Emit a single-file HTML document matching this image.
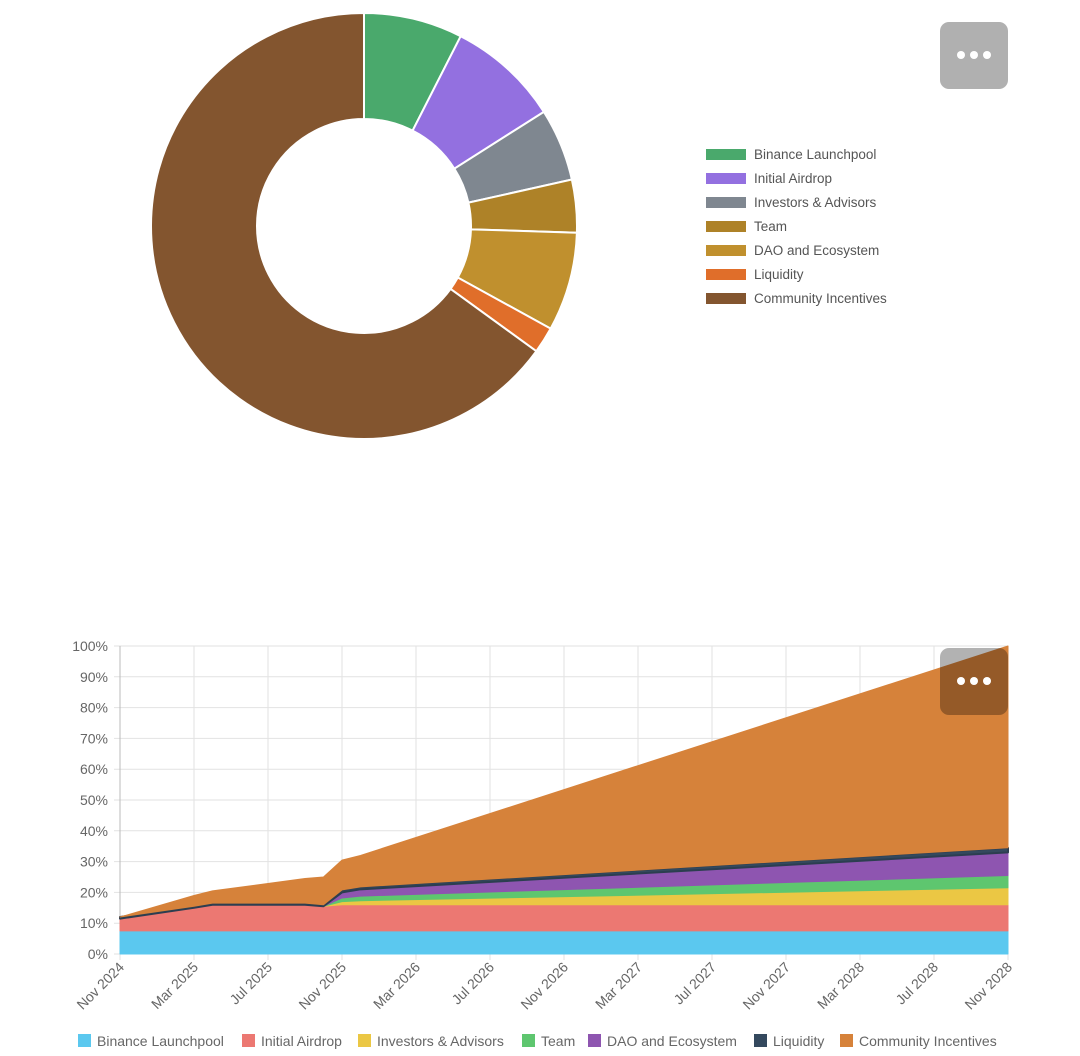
<!DOCTYPE html>
<html><head><meta charset="utf-8">
<style>
html,body{margin:0;padding:0;background:#fff;width:1080px;height:1056px;overflow:hidden;font-family:"Liberation Sans",sans-serif;}
svg{position:absolute;left:0;top:0;}
</style></head>
<body>
<svg id="chart" width="1080" height="1056" xmlns="http://www.w3.org/2000/svg"></svg>
<script>
// ---------- Donut data ----------
const donutLabels = ["Binance Launchpool","Initial Airdrop","Investors & Advisors","Team","DAO and Ecosystem","Liquidity","Community Incentives"];
const donutValues = [7.5, 8.5, 5.5, 4, 7.5, 2, 65];
const donutColors = ["#4aa96c","#9370e0","#7f8790","#ae8228","#c0902e","#e06e2a","#83552f"];

// ---------- Area chart data ----------
const monthIdx = [0, 4, 5, 10, 11, 12, 13, 48];
const xTickLabels = ["Nov 2024","Mar 2025","Jul 2025","Nov 2025","Mar 2026","Jul 2026","Nov 2026","Mar 2027","Jul 2027","Nov 2027","Mar 2028","Jul 2028","Nov 2028"];
const yTickLabels = ["0%","10%","20%","30%","40%","50%","60%","70%","80%","90%","100%"];
const seriesNames = ["Binance Launchpool","Initial Airdrop","Investors & Advisors","Team","DAO and Ecosystem","Liquidity","Community Incentives"];
const launchpool = [7.5, 7.5, 7.5, 7.5, 7.5, 7.5, 7.5, 7.5];
const airdrop    = [4, 7.5, 8.5, 8.5, 8, 8.5, 8.5, 8.5];
const investors  = [0, 0, 0, 0, 0, 1, 1.3, 5.5];
const team       = [0, 0, 0, 0, 0, 1.2, 1.5, 4];
const dao        = [0, 0, 0, 0, 0, 1.8, 2.2, 7.5];
const liquidity  = [0.5, 0.5, 0.5, 0.5, 0.5, 0.8, 0.8, 1.5];
const community  = [0, 3.5, 4, 8, 9, 9.7, 10.2, 65.5];
const areaColors = ["#5bc8ef","#ec7872","#ebc744","#5ec66f","#8e55b0","#34495e","#d6823a"];

const NS="http://www.w3.org/2000/svg";
const svg=document.getElementById('chart');
function mk(tag,attrs,parent){const e=document.createElementNS(NS,tag);for(const k in attrs)e.setAttribute(k,attrs[k]);(parent||svg).appendChild(e);return e;}

// Donut
const cx=364,cy=226,R=213,r=107;
const dg=mk('g',{});


const total=donutValues.reduce((a,b)=>a+b,0);
let acc=0;
donutValues.forEach((v,i)=>{
  const a0=acc/total*2*Math.PI, a1=(acc+v)/total*2*Math.PI; acc+=v;
  const p=(a,rad)=>[cx+rad*Math.sin(a),cy-rad*Math.cos(a)];
  const [x0,y0]=p(a0,R),[x1,y1]=p(a1,R),[x2,y2]=p(a1,r),[x3,y3]=p(a0,r);
  const lg=(a1-a0)>Math.PI?1:0;
  const s=mk('path',{d:`M${x0},${y0}A${R},${R} 0 ${lg} 1 ${x1},${y1}L${x2},${y2}A${r},${r} 0 ${lg} 0 ${x3},${y3}Z`,fill:donutColors[i],stroke:'#fff','stroke-width':2},dg);
  
  
});
donutLabels.forEach((l,i)=>{
  const g=mk('g',{});
  
  
  const y=154+i*24;
  mk('rect',{x:706,y:y-5,width:40,height:11,fill:donutColors[i]},g);
  const t=mk('text',{x:754,y:y+5,'font-size':13.5,fill:'#555'},g);t.textContent=l;
});

// Menu buttons
function menu(x,y,fill,name){
  const g=mk('g',{});
  
  
  mk('rect',{x:x,y:y,width:68,height:67,rx:9,fill:fill},g);
  [-13,0,13].forEach(d=>mk('circle',{cx:x+34+d,cy:y+33,r:4,fill:'#fff'},g));
}
menu(940,22,'#b0b0b0','donut-menu-button');

// Area chart
const X0=120,X1=1008,Y0=954,Y1=646;
const xs=m=>X0+(X1-X0)*m/48;
const ys=v=>Y0-(Y0-Y1)*v/100;
const ag=mk('g',{});


yTickLabels.forEach((l,i)=>{
  const y=ys(i*10);
  mk('line',{x1:X0-6,x2:X1,y1:y,y2:y,stroke:'#e2e2e2','stroke-width':1},ag);
  const t=mk('text',{x:108,y:y+5,'font-size':14,fill:'#666','text-anchor':'end'},ag);t.textContent=l;
});
xTickLabels.forEach((l,i)=>{
  const x=xs(i*4);
  mk('line',{x1:x,x2:x,y1:Y1,y2:Y0+6,stroke:'#e2e2e2','stroke-width':1},ag);
  const t=mk('text',{x:x+5,y:Y0+14,'font-size':14,fill:'#666','text-anchor':'end',transform:`rotate(-45 ${x+5} ${Y0+14})`},ag);t.textContent=l;
});
mk('line',{x1:X0,x2:X0,y1:Y1,y2:Y0,stroke:'#bbb'},ag);
const series=[launchpool,airdrop,investors,team,dao,liquidity,community];
let base=monthIdx.map(()=>0);
series.forEach((s,i)=>{
  const top=base.map((b,j)=>b+s[j]);
  let d='M'+monthIdx.map((m,j)=>xs(m)+','+ys(top[j])).join('L');
  for(let j=monthIdx.length-1;j>=0;j--) d+='L'+xs(monthIdx[j])+','+ys(base[j]);
  d+='Z';
  const p=mk('path',{d:d,fill:areaColors[i],stroke:i==5?'#2c3e50':areaColors[i],'stroke-width':i==5?2:1,'stroke-linejoin':'round'},ag);
  
  
  base=top;
});
menu(940,648,'rgba(0,0,0,0.3)','area-menu-button');
const lx=[78,242,358,522,588,754,840];
seriesNames.forEach((n,i)=>{
  const g=mk('g',{});
  
  
  mk('rect',{x:lx[i],y:1034,width:13,height:13,fill:areaColors[i]},g);
  const t=mk('text',{x:lx[i]+19,y:1046,'font-size':14,fill:'#666'},g);t.textContent=n;
});
</script>
</body></html>
